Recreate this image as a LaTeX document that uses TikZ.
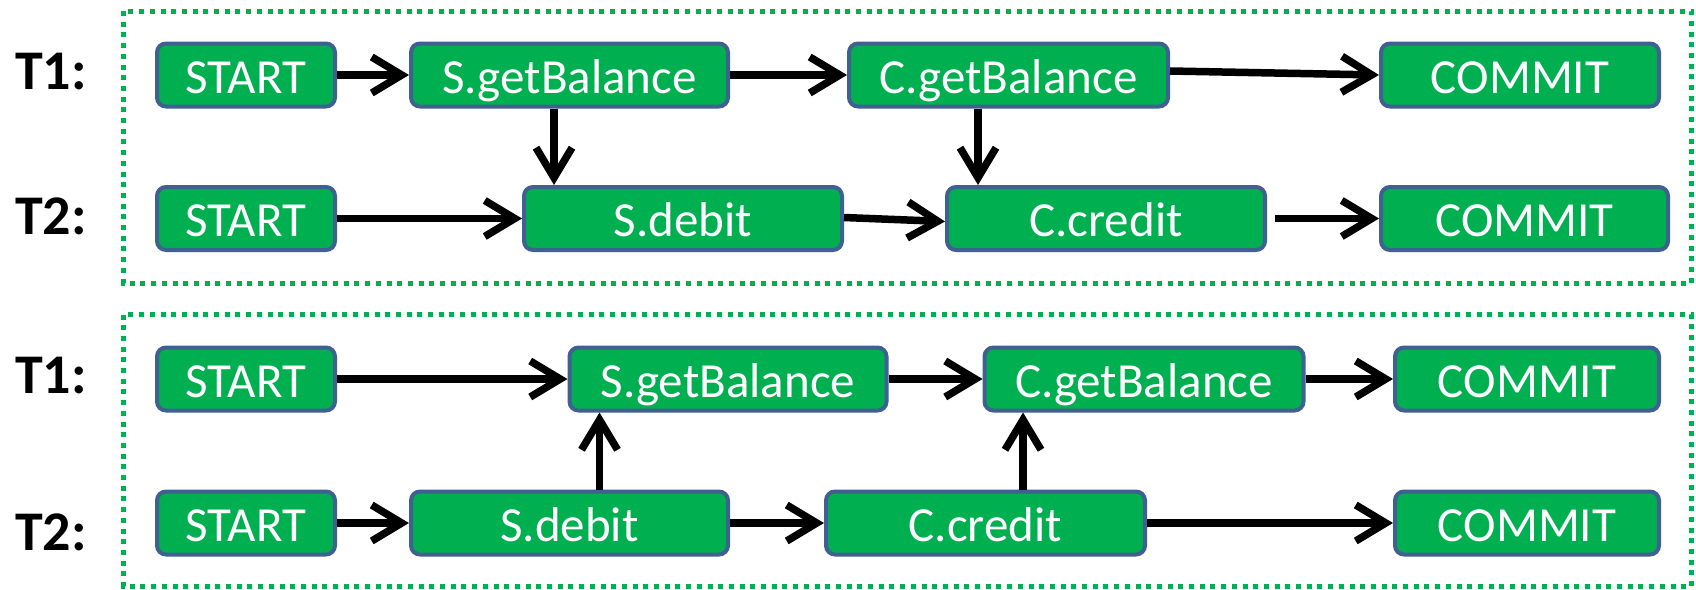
\documentclass[tikz,border=0pt]{standalone}
\usepackage{fontspec}
\setmainfont{Carlito}
\usetikzlibrary{arrows.meta}
\definecolor{boxgreen}{HTML}{00B050}
\definecolor{boxedge}{HTML}{3E6192}
\tikzset{
  opbox/.style={draw=boxedge, line width=4pt, fill=boxgreen, rounded corners=9pt,
    text=white, inner sep=0pt, minimum height=63pt,
    font=\fontsize{49}{58}\selectfont, text height=36pt, text depth=0pt},
  tlabel/.style={anchor=base west, inner sep=0pt, font=\fontsize{56}{66}\selectfont\bfseries},
  frame/.style={draw=boxgreen, line width=5pt, dash pattern=on 5pt off 5.7pt},
  conn/.style={line width=7.5pt, -{Straight Barb[length=30pt,width=36pt]}}
}
\begin{document}
\begin{tikzpicture}[x=1pt,y=-1pt]
\useasboundingbox (0,0) rectangle (1696,589);
% frames
\draw[frame] (123.5,11) rectangle (1691.5,283);
\draw[frame] (123.5,314.5) rectangle (1691.5,586.5);
% labels
\node[tlabel] (la1) at (15,89) {T1:};
\node[tlabel] (la2) at (15,234) {T2:};
\node[tlabel] (lb1) at (15,393) {T1:};
\node[tlabel] (lb2) at (15,550) {T2:};
% top diagram
\node[opbox, minimum width=178pt] (a1start) at (246,75) {START};
\node[opbox, minimum width=317pt] (a1sgb) at (569.5,75) {S.getBalance};
\node[opbox, minimum width=319pt] (a1cgb) at (1008.5,75) {C.getBalance};
\node[opbox, minimum width=278pt] (a1com) at (1520,75) {COMMIT};
\node[opbox, minimum width=178pt] (a2start) at (246,218.5) {START};
\node[opbox, minimum width=318pt] (a2sdeb) at (683,218.5) {S.debit};
\node[opbox, minimum width=318pt] (a2ccr) at (1106,218.5) {C.credit};
\node[opbox, minimum width=287pt] (a2com) at (1524.5,218.5) {COMMIT};
\draw[conn] (a1start.east) -- (a1sgb.west);
\draw[conn] (a1sgb.east) -- (a1cgb.west);
\draw[conn] ([yshift=4pt]a1cgb.east) -- (a1com.west);
\draw[conn] (a2start.east) -- (a2sdeb.west);
\draw[conn] ([yshift=1pt]a2sdeb.east) -- ([yshift=-3pt]a2ccr.west);
\draw[conn] ([xshift=8pt]a2ccr.east) -- (a2com.west);
\draw[conn] ([xshift=-15.5pt]a1sgb.south) -- ([xshift=-15.5pt]a1sgb.south |- a2sdeb.north);
\draw[conn] ([xshift=-30.5pt]a1cgb.south) -- ([xshift=-30.5pt]a1cgb.south |- a2ccr.north);
% bottom diagram
\node[opbox, minimum width=178pt] (b1start) at (246,379) {START};
\node[opbox, minimum width=317pt] (b1sgb) at (728,379) {S.getBalance};
\node[opbox, minimum width=319pt] (b1cgb) at (1144,379) {C.getBalance};
\node[opbox, minimum width=264pt] (b1com) at (1527,379) {COMMIT};
\node[opbox, minimum width=178pt] (b2start) at (246,523) {START};
\node[opbox, minimum width=317pt] (b2sdeb) at (569.5,523) {S.debit};
\node[opbox, minimum width=319pt] (b2ccr) at (985.5,523) {C.credit};
\node[opbox, minimum width=264pt] (b2com) at (1527,523) {COMMIT};
\draw[conn] (b1start.east) -- (b1sgb.west);
\draw[conn] (b1sgb.east) -- (b1cgb.west);
\draw[conn] (b1cgb.east) -- (b1com.west);
\draw[conn] (b2start.east) -- (b2sdeb.west);
\draw[conn] (b2sdeb.east) -- (b2ccr.west);
\draw[conn] (b2ccr.east) -- (b2com.west);
\draw[conn] ([xshift=30pt]b2sdeb.north) -- ([xshift=30pt]b2sdeb.north |- b1sgb.south);
\draw[conn] ([xshift=37.5pt]b2ccr.north) -- ([xshift=37.5pt]b2ccr.north |- b1cgb.south);
\end{tikzpicture}
\end{document}
